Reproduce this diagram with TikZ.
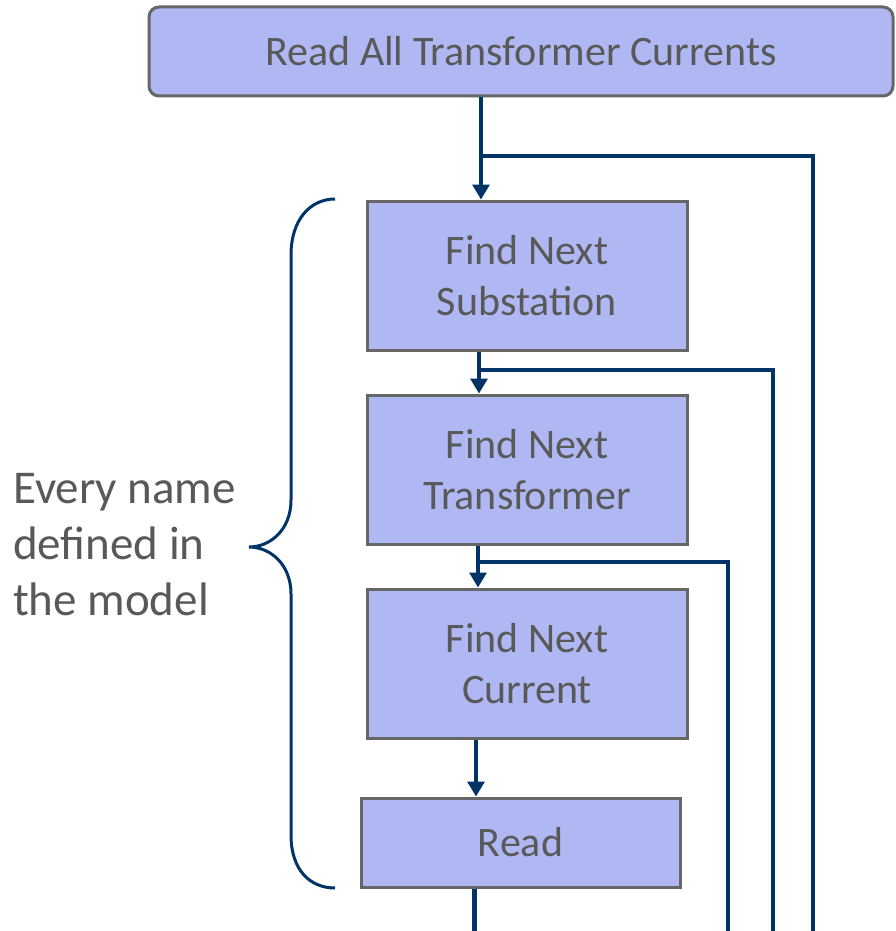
\documentclass[tikz,border=0pt]{standalone}
\usepackage{fontspec}
\setmainfont{Carlito}
\usetikzlibrary{arrows.meta,calc}
\definecolor{boxfill}{RGB}{176,184,244}
\definecolor{boxline}{RGB}{102,102,102}
\definecolor{txt}{RGB}{89,89,89}
\definecolor{navy}{RGB}{0,51,102}
\tikzset{
  stepbox/.style={draw=boxline, line width=3pt, fill=boxfill, text=txt,
    align=center, inner sep=0pt, font=\fontsize{42}{51}\selectfont},
  arr/.style={draw=navy, line width=3.2pt, -{Triangle[width=17pt,length=15pt]}},
  loopline/.style={draw=navy, line width=3.2pt},
}
\begin{document}
\begin{tikzpicture}[x=1pt,y=-1pt]
\useasboundingbox[fill=white] (0,0) rectangle (895,931);
\node[stepbox, rounded corners=10pt, minimum width=744pt, minimum height=89pt] (top) at (521,51.5) {Read All Transformer Currents};
\node[stepbox, minimum width=320pt, minimum height=149pt] (sub) at (527,275.5) {Find Next\\Substation};
\node[stepbox, minimum width=320pt, minimum height=149pt] (tra) at (527,469.5) {Find Next\\Transformer};
\node[stepbox, minimum width=320pt, minimum height=149pt] (cur) at (527,663.5) {Find Next\\Current};
\node[stepbox, minimum width=319pt, minimum height=89pt] (rd) at (520.5,842.5) {Read};
\node[text=txt, align=left, anchor=west, inner sep=0pt, font=\fontsize{47}{56}\selectfont] (lbl) at (13,545) {Every name\\defined in\\the model};
% main arrows
\draw[arr] (top.south -| 481,0) -- (sub.north -| 481,0);
\draw[arr] (sub.south -| 479,0) -- (tra.north -| 479,0);
\draw[arr] (tra.south -| 478,0) -- (cur.north -| 478,0);
\draw[arr] (cur.south -| 476,0) -- (rd.north -| 476,0);
\coordinate (out) at (474,931);
\draw[draw=navy, line width=5pt] (rd.south -| out) -- (out);
% loop-back lines
\coordinate (e1) at (813,931);
\coordinate (j1) at (481,156);
\coordinate (e2) at (773,931);
\coordinate (j2) at (479,370);
\coordinate (e3) at (728,931);
\coordinate (j3) at (478,562);
\draw[loopline] (e1) |- (j1);
\draw[loopline] (e2) |- (j2);
\draw[loopline] (e3) |- (j3);
% brace
\coordinate (bt) at (335,199);
\coordinate (bb) at (335,888);
\coordinate (tip) at (249,547);
\draw[navy, line width=3pt] (bt) .. controls (310,199) and (291,220) .. (291,255)
  -- (291,500) .. controls (291,530) and (270,547) .. (tip)
  .. controls (270,547) and (291,564) .. (291,594)
  -- (291,835) .. controls (291,870) and (310,888) .. (bb);
\end{tikzpicture}
\end{document}
